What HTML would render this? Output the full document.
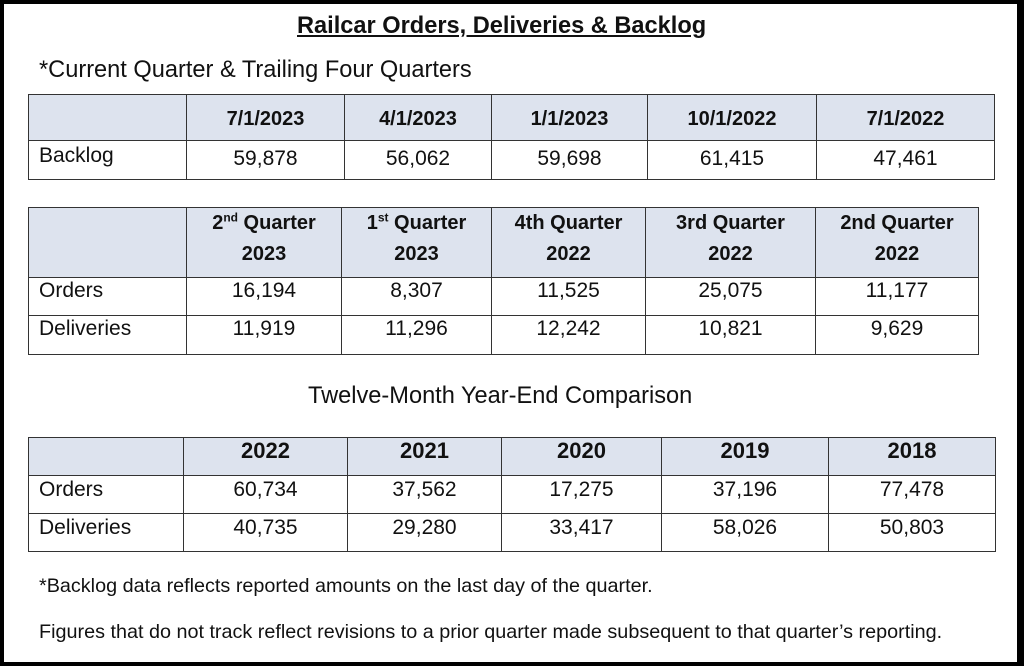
<!DOCTYPE html>
<html><head><meta charset="utf-8"><style>
*{margin:0;padding:0;box-sizing:border-box}
body{width:1024px;height:666px;background:#000;position:relative;overflow:hidden;font-family:"Liberation Sans",Arial,sans-serif;color:#111}
#page{position:absolute;left:4px;top:4px;width:1013px;height:658px;background:#fff}
.t{position:absolute;white-space:nowrap;line-height:26px}
table{position:absolute;border-collapse:collapse;table-layout:fixed;font-size:21px;line-height:24px}
td{border:1.5px solid #333;text-align:center;vertical-align:top;padding:0}
td.l{text-align:left;padding-left:10px}
tr.h td{background:#dde3ee;font-weight:bold;font-size:20px}
</style></head><body>
<div id="page"></div>
<div class="t" style="left:297px;top:13px;font-size:23.6px;font-weight:bold;text-decoration:underline">Railcar Orders, Deliveries &amp; Backlog</div>
<div class="t" style="left:39px;top:57px;font-size:23.6px">*Current Quarter &amp; Trailing Four Quarters</div>

<table style="left:28px;top:94px;width:966px">
<colgroup><col style="width:158px"><col style="width:158px"><col style="width:147px"><col style="width:156px"><col style="width:169px"><col style="width:178px"></colgroup>
<tr class="h" style="height:46px"><td></td><td style="padding-top:12px">7/1/2023</td><td style="padding-top:12px">4/1/2023</td><td style="padding-top:12px">1/1/2023</td><td style="padding-top:12px">10/1/2022</td><td style="padding-top:12px">7/1/2022</td></tr>
<tr style="height:39px"><td class="l" style="padding-top:3px">Backlog</td><td style="padding-top:6px">59,878</td><td style="padding-top:6px">56,062</td><td style="padding-top:6px">59,698</td><td style="padding-top:6px">61,415</td><td style="padding-top:6px">47,461</td></tr>
</table>

<table style="left:28px;top:207px;width:950px">
<colgroup><col style="width:158px"><col style="width:155px"><col style="width:150px"><col style="width:154px"><col style="width:170px"><col style="width:163px"></colgroup>
<tr class="h" style="height:70px"><td></td><td style="line-height:31px">2<sup style="font-size:12px;line-height:0">nd</sup> Quarter<br>2023</td><td style="line-height:31px">1<sup style="font-size:12px;line-height:0">st</sup> Quarter<br>2023</td><td style="line-height:31px">4th Quarter<br>2022</td><td style="line-height:31px">3rd Quarter<br>2022</td><td style="line-height:31px">2nd Quarter<br>2022</td></tr>
<tr style="height:38px"><td class="l" style="padding-top:1px">Orders</td><td style="padding-top:1px">16,194</td><td style="padding-top:1px">8,307</td><td style="padding-top:1px">11,525</td><td style="padding-top:1px">25,075</td><td style="padding-top:1px">11,177</td></tr>
<tr style="height:39px"><td class="l" style="padding-top:1px">Deliveries</td><td style="padding-top:1px">11,919</td><td style="padding-top:1px">11,296</td><td style="padding-top:1px">12,242</td><td style="padding-top:1px">10,821</td><td style="padding-top:1px">9,629</td></tr>
</table>

<div class="t" style="left:308px;top:383px;font-size:23.6px">Twelve-Month Year-End Comparison</div>

<table style="left:28px;top:437px;width:967px">
<colgroup><col style="width:155px"><col style="width:164px"><col style="width:154px"><col style="width:160px"><col style="width:167px"><col style="width:167px"></colgroup>
<tr class="h" style="height:38px"><td></td><td style="padding-top:1px;font-size:22px">2022</td><td style="padding-top:1px;font-size:22px">2021</td><td style="padding-top:1px;font-size:22px">2020</td><td style="padding-top:1px;font-size:22px">2019</td><td style="padding-top:1px;font-size:22px">2018</td></tr>
<tr style="height:38px"><td class="l" style="padding-top:2px">Orders</td><td style="padding-top:2px">60,734</td><td style="padding-top:2px">37,562</td><td style="padding-top:2px">17,275</td><td style="padding-top:2px">37,196</td><td style="padding-top:2px">77,478</td></tr>
<tr style="height:38px"><td class="l" style="padding-top:2px">Deliveries</td><td style="padding-top:2px">40,735</td><td style="padding-top:2px">29,280</td><td style="padding-top:2px">33,417</td><td style="padding-top:2px">58,026</td><td style="padding-top:2px">50,803</td></tr>
</table>

<div class="t" style="left:39px;top:573px;font-size:19.8px">*Backlog data reflects reported amounts on the last day of the quarter.</div>
<div class="t" style="left:39px;top:619px;font-size:19.8px">Figures that do not track reflect revisions to a prior quarter made subsequent to that quarter’s reporting.</div>
</body></html>
